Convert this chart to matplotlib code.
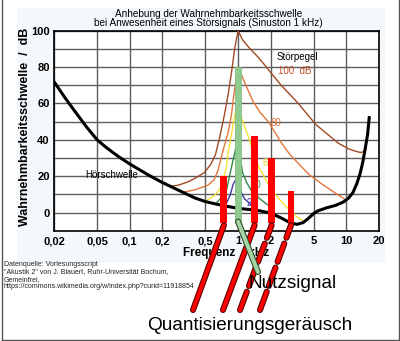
import matplotlib
matplotlib.use("Agg")
import matplotlib.pyplot as plt
import matplotlib.patheffects as pe
from matplotlib.patches import Rectangle
from matplotlib.lines import Line2D
from matplotlib.ticker import NullLocator

plt.rcParams["font.family"] = ["Liberation Sans", "DejaVu Sans"]

# ---- data -------------------------------------------------------------
x_ticks = [0.02, 0.05, 0.1, 0.2, 0.5, 1, 2, 5, 10, 20]
x_tick_labels = ["0,02", "0,05", "0,1", "0,2", "0,5", "1", "2", "5", "10", "20"]
y_ticks = [0, 20, 40, 60, 80, 100]

# threshold in quiet (Hörschwelle)
thr_f = [0.02, 0.025, 0.03, 0.04, 0.05, 0.06, 0.07, 0.08, 0.1, 0.15, 0.2,
         0.3, 0.4, 0.5, 0.7, 1.0, 1.5, 2.0, 2.5, 3.0, 3.5, 4.0, 4.5, 5.0,
         5.5, 6.5, 8.0, 9.4, 10.5, 11.5, 12.5, 13.4, 14.2, 15.0, 15.7, 16.3]
thr_db = [72, 63.5, 57, 47, 40, 36, 33, 30.5, 26.7, 20.5, 16.5,
          11.5, 8, 6, 4, 2.3, 1.2, -0.3, -3, -5.5, -6.5, -5.5, -3, -0.5,
          1, 2.5, 4, 5.8, 8, 11, 16, 21.5, 28, 36, 43, 53]

# masked thresholds for a 1 kHz masker at several levels
m100_f = [0.24, 0.28, 0.35, 0.42, 0.49, 0.56, 0.62, 0.675, 0.75, 0.81, 0.87,
          0.93, 1.0, 1.1, 1.25, 1.5, 1.77, 2.0, 2.5, 3.0, 3.6, 4.5, 5.2, 6.4,
          8.5, 10.5, 12.0, 13.5, 14.5, 15.2]
m100_db = [14.5, 15, 17, 19.5, 22, 26.5, 32, 41, 54, 65, 77,
           90, 100, 95, 91, 86, 81, 77, 70, 65, 60, 53, 48.5, 44,
           38, 35, 33.8, 33, 33.5, 35]

m80_f = [0.3, 0.4, 0.527, 0.6, 0.652, 0.726, 0.81, 0.87, 0.92, 1.0, 1.07,
         1.2, 1.38, 1.6, 1.9, 2.2, 2.5, 3.0, 3.6, 4.5, 6.0, 8.0, 9.8]
m80_db = [11, 12.5, 15, 18, 23, 34, 44, 54, 66, 80, 76,
          69, 61, 55, 50, 44, 38.5, 32, 27, 21, 15.5, 10.5, 7]

m60_f = [0.5, 0.527, 0.61, 0.68, 0.726, 0.78, 0.81, 0.87, 0.92, 1.0, 1.05,
         1.15, 1.24, 1.38, 1.55, 1.77, 2.0, 2.35, 2.7, 3.1, 3.6, 4.15]
m60_db = [6, 7, 9.5, 13, 17.6, 25, 33, 43, 52, 60, 54,
          47, 42, 33, 25, 19, 13, 8, 4, 0.5, -3, -5]

m40_f = [0.62, 0.65, 0.72, 0.78, 0.87, 0.95, 1.0, 1.05, 1.1, 1.2, 1.33,
         1.59, 1.9, 2.1]
m40_db = [4.5, 6, 9, 12, 25, 35, 40, 30, 22, 16.5, 12,
          7.5, 4, 1]

m20_f = [0.72, 0.78, 0.85, 0.9, 0.95, 1.0, 1.03, 1.08, 1.15, 1.28, 1.4]
m20_db = [3.5, 5, 10, 15.5, 18, 20, 15, 10.5, 7.5, 5, 2.5]

# wanted signal and quantisation noise components
signal_f = [1.0]
signal_db = [80]
noise_f = [0.74, 1.42, 2.04, 3.08]
noise_db = [20, 42, 30, 12]
bar_floor = -6

# ---- figure -----------------------------------------------------------
W, H = 400, 341
fig = plt.figure(figsize=(W / 100, H / 100), dpi=100)


def fx(px):
    return px / W


def fy(py):
    return 1 - py / H


# light panel behind the chart
fig.patches.append(Rectangle((fx(17), fy(263)), fx(385) - fx(17), fy(8) - fy(263),
                             transform=fig.transFigure, facecolor="#f4f8fb",
                             edgecolor="none", zorder=-5))
# outer frame (left, right, bottom)
for xs, ys in [((1.5, 1.5), (0, 339.5)), ((398.5, 398.5), (0, 339.5)),
               ((1.5, 398.5), (339.5, 339.5))]:
    fig.add_artist(Line2D([fx(x) for x in xs], [fy(y) for y in ys],
                          transform=fig.transFigure, color="#555555", lw=1.0))

ax = fig.add_axes([fx(54), fy(230.7), fx(379) - fx(54), fy(30.7) - fy(230.7)])
ax.set_zorder(1)
ax.set_facecolor("white")
ax.set_xscale("log")
ax.set_xlim(0.02, 20)
ax.set_ylim(-10, 100)
ax.set_xticks(x_ticks)
ax.set_xticklabels(x_tick_labels)
ax.xaxis.set_minor_locator(NullLocator())
ax.set_yticks(y_ticks)
ax.set_yticks([10, 30, 50, 70, 90], minor=True)
ax.tick_params(which="both", length=0)
ax.tick_params(axis="x", pad=4)
ax.tick_params(axis="y", pad=3)
for lab in ax.get_xticklabels() + ax.get_yticklabels():
    lab.set_fontsize(8)
    lab.set_fontweight("bold")
ax.grid(True, which="both", color="#5c5c5c", lw=1.0, zorder=1)
ax.set_axisbelow(True)
for sp in ax.spines.values():
    sp.set_color("black")
    sp.set_linewidth(1.2)

# masking curves
ax.plot(m100_f, m100_db, color="#a24a22", lw=1.0, zorder=3)
ax.plot(m80_f, m80_db, color="#e2773c", lw=1.0, zorder=3)
ax.plot(m60_f, m60_db, color="#f2e034", lw=1.0, zorder=3)
ax.plot(m40_f, m40_db, color="#2f8a4c", lw=1.0, zorder=3)
ax.plot(m20_f, m20_db, color="#3a3aa0", lw=1.0, zorder=3)
ax.plot(thr_f, thr_db, color="black", lw=2.2, zorder=4, solid_capstyle="butt",
        solid_joinstyle="round")

# curve labels
ax.text(0.039, 20.8, "Hörschwelle", fontsize=7, va="center", ha="left", zorder=3)
ax.text(2.27, 85.3, "Störpegel", fontsize=7, va="center", ha="left", zorder=3)
ax.text(2.32, 78, "100  dB", fontsize=7, va="center", ha="left", color="#c05020", zorder=3)
ax.text(2.0, 49.4, "80", fontsize=7, va="center", ha="left", color="#e2773c", zorder=3)
ax.text(1.87, 27, "60", fontsize=7, va="center", ha="center", color="#e8d020", zorder=3)
ax.text(1.48, 15.4, "40", fontsize=7, va="center", ha="center", color="#2f8a4c", zorder=3)
ax.text(1.34, 5.2, "20", fontsize=7, va="center", ha="center", color="#3a3aa0", zorder=3)


def log_bar(freqs, levels, half, **kw):
    lefts = [f * 10 ** (-half) for f in freqs]
    widths = [f * (10 ** half - 10 ** (-half)) for f in freqs]
    heights = [v - bar_floor for v in levels]
    ax.bar(lefts, heights, width=widths, bottom=bar_floor, align="edge", **kw)


log_bar(signal_f, signal_db, 0.028, color="#8fca8f", edgecolor="#7ab87a", lw=0.5, zorder=5)
log_bar(noise_f, noise_db, 0.032, color="#ff0000", edgecolor="none", zorder=6)

# connectors from the bars to their captions
red_fx = pe.Stroke(linewidth=4.4, foreground="#5a0000")
noise_ends = [(193, 310), (223, 310), (240, 310), (260, 310)]
noise_styles = ["-", "-", (0, (5, 1.6)), (0, (5, 1.6))]
for f, (ex, ey), ls in zip(noise_f, noise_ends, noise_styles):
    ax.annotate("", xy=(f, bar_floor - 1), xycoords="data",
                xytext=(ex, H - ey), textcoords="figure pixels",
                annotation_clip=False, zorder=7,
                arrowprops=dict(arrowstyle="-", color="#ff0000", lw=2.8,
                                linestyle=ls, shrinkA=0, shrinkB=0,
                                capstyle="round",
                                path_effects=[red_fx, pe.Normal()]))
ax.annotate("", xy=(signal_f[0], bar_floor + 1), xycoords="data",
            xytext=(258, H - 272), textcoords="figure pixels",
            annotation_clip=False, zorder=7,
            arrowprops=dict(arrowstyle="-", color="#a6d6a6", lw=2.8,
                            shrinkA=0, shrinkB=0, capstyle="round",
                            path_effects=[pe.Stroke(linewidth=4.4, foreground="#2c4a2c"),
                                          pe.Normal()]))

# titles and axis labels
fig.text(fx(209), fy(14), "Anhebung der Wahrnehmbarkeitsschwelle", fontsize=7.2,
         ha="center", va="center")
fig.text(fx(208), fy(23), "bei Anwesenheit eines Störsignals (Sinuston 1 kHz)",
         fontsize=7.2, ha="center", va="center")
fig.text(fx(25), fy(127), "Wahrnehmbarkeitsschwelle  /  dB", fontsize=9,
         fontweight="bold", rotation=90, ha="center", va="center")
fig.text(fx(226), fy(253), "Frequenz  / kHz", fontsize=8.5, fontweight="bold",
         ha="center", va="center", zorder=0)

# captions
fig.text(fx(248), fy(283), "Nutzsignal", fontsize=13.7, ha="left", va="center")
fig.text(fx(147), fy(326), "Quantisierungsgeräusch", fontsize=13.7, ha="left",
         va="center")

# source note
source = ["Datenquelle: Vorlesungsscript",
          "\"Akustik 2\" von J. Blauert, Ruhr-Universität Bochum,",
          "Gemeinfrei,",
          "https://commons.wikimedia.org/w/index.php?curid=11918854"]
for i, line in enumerate(source):
    fig.text(fx(4), fy(264 + 7.6 * i), line, fontsize=5, color="#222222",
             ha="left", va="center")

fig.savefig("out.png", dpi=100)
